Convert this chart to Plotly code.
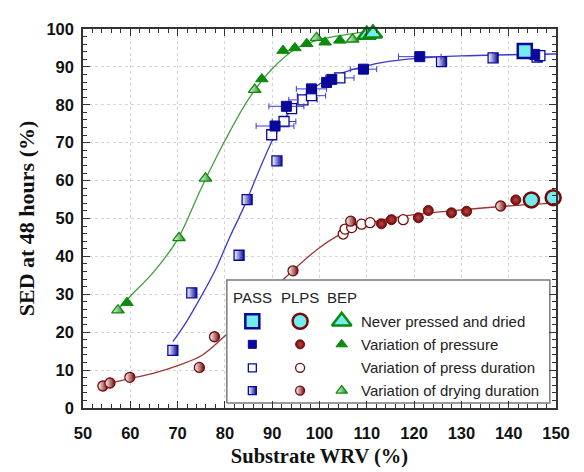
import plotly.graph_objects as go

# ---------------- data ----------------
# PASS (blue squares)
pass_never_x = [143.4]
pass_never_y = [94.2]
pass_press_x = [90.6, 93.0, 98.3, 101.5, 102.6, 109.3, 121.2, 145.5]
pass_press_y = [74.4, 79.6, 84.2, 85.9, 86.7, 89.4, 92.7, 93.3]
pass_press_err = [4.0, 3.7, 3.2, 0, 0, 2.8, 4.5, 0]
pass_dur_x = [89.9, 92.5, 94.1, 96.5, 98.3, 104.3, 146.6]
pass_dur_y = [72.1, 75.6, 79.0, 81.3, 82.4, 87.1, 93.0]
pass_dur_err = [0, 2.5, 0, 3.0, 3.0, 3.0, 0]
pass_dry_x = [69.0, 73.0, 83.0, 84.7, 91.0, 125.8, 136.7, 146.0]
pass_dry_y = [15.2, 30.4, 40.3, 55.0, 65.2, 91.4, 92.4, 92.6]

# PLPS (red circles)
plps_never_x = [144.8, 149.4]
plps_never_y = [54.9, 55.5]
plps_press_x = [113.1, 115.2, 120.9, 123.0, 127.9, 131.1, 141.5]
plps_press_y = [48.6, 49.7, 50.2, 52.1, 51.5, 51.9, 54.9]
plps_dur_x = [105.0, 105.4, 106.8, 108.9, 110.7, 117.7]
plps_dur_y = [45.9, 47.2, 47.6, 48.5, 48.9, 49.7]
plps_dry_x = [54.2, 55.7, 59.9, 74.6, 77.8, 94.4, 106.6, 138.3]
plps_dry_y = [5.8, 6.6, 8.1, 10.7, 18.8, 36.2, 49.3, 53.3]

# BEP (green triangles)
bep_never_x = [110.0, 111.3]
bep_never_y = [98.5, 98.8]
bep_press_x = [59.3, 87.8, 92.3, 94.8, 97.3, 101.2, 104.3]
bep_press_y = [27.8, 86.8, 94.3, 95.0, 96.1, 96.5, 97.0]
bep_dry_x = [57.4, 70.3, 75.9, 86.3, 99.4, 107.0]
bep_dry_y = [25.8, 44.9, 60.6, 84.0, 97.7, 97.3]

# fitted curves
fit_bep_x = [57, 60, 65, 70, 75, 80, 85, 90, 95, 100, 105, 110]
fit_bep_y = [25.5, 29.5, 36.0, 44.5, 58.0, 70.5, 81.5, 89.5, 94.8, 97.2, 98.4, 99.3]
fit_pass_x = [69, 72, 75, 78, 81, 84, 87, 90, 93, 96, 100, 105, 110, 115, 120, 130, 140, 150]
fit_pass_y = [17.5, 23.0, 29.5, 36.5, 45.0, 53.0, 62.0, 70.5, 77.0, 81.5, 85.5, 88.5, 90.3, 91.5, 92.2, 92.9, 93.2, 93.4]
fit_plps_x = [53.5, 56, 60, 65, 70, 75, 80, 85, 90, 95, 100, 105, 110, 115, 120, 130, 140, 150]
fit_plps_y = [5.8, 6.6, 7.8, 9.2, 11.2, 13.8, 19.0, 24.5, 31.0, 37.0, 42.3, 46.2, 48.6, 50.0, 51.0, 52.3, 53.3, 54.1]

x_ticks = [50, 60, 70, 80, 90, 100, 110, 120, 130, 140, 150]
y_ticks = [0, 10, 20, 30, 40, 50, 60, 70, 80, 90, 100]

legend_rows = ["Never pressed and dried", "Variation of pressure",
               "Variation of press duration", "Variation of drying duration"]
legend_cols = ["PASS", "PLPS", "BEP"]

# ---------------- styles ----------------
NAVY = "#08089a"
BLUE_LINE = "#3a3ad0"
MAROON = "#760808"
RED_LINE = "#a03434"
GREEN = "#0b8a0b"
GREEN_LINE = "#3f9f3f"
CYAN = "#72ecec"


def m_never(sym, col, size=14):
    return dict(symbol=sym, size=size, color=CYAN, line=dict(color=col, width=2.5))


def m_filled(sym, col, size=9):
    return dict(symbol=sym, size=size, color=col, line=dict(color=col, width=1))


def m_ball(col, size=9):
    return dict(symbol="circle", size=size, color=col,
                gradient=dict(type="radial", color="#b44848"),
                line=dict(color=col, width=1))


def m_open(sym, col, size=9):
    return dict(symbol=sym, size=size, color="white", line=dict(color=col, width=1.3))


def m_half(sym, col, size=9):
    return dict(symbol=sym, size=size, color="white",
                gradient=dict(type="horizontal", color=col),
                line=dict(color=col, width=1.3))


fig = go.Figure()

# curves
fig.add_trace(go.Scatter(x=fit_bep_x, y=fit_bep_y, mode="lines", line=dict(color=GREEN_LINE, width=1.3, shape="spline"), hoverinfo="skip"))
fig.add_trace(go.Scatter(x=fit_pass_x, y=fit_pass_y, mode="lines", line=dict(color=BLUE_LINE, width=1.3, shape="spline"), hoverinfo="skip"))
fig.add_trace(go.Scatter(x=fit_plps_x, y=fit_plps_y, mode="lines", line=dict(color=RED_LINE, width=1.3, shape="spline"), hoverinfo="skip"))

ebar = dict(type="data", color=BLUE_LINE, thickness=1, width=3)

# PASS
fig.add_trace(go.Scatter(x=pass_dry_x, y=pass_dry_y, mode="markers", marker=m_half("square", NAVY, 10)))
fig.add_trace(go.Scatter(x=pass_dur_x, y=pass_dur_y, mode="markers", marker=m_open("square", NAVY, 10),
                         error_x=dict(array=pass_dur_err, **ebar)))
fig.add_trace(go.Scatter(x=pass_press_x, y=pass_press_y, mode="markers", marker=m_filled("square", NAVY, 10),
                         error_x=dict(array=pass_press_err, **ebar)))
fig.add_trace(go.Scatter(x=pass_never_x, y=pass_never_y, mode="markers", marker=m_never("square", NAVY, 14), cliponaxis=False))

# PLPS
fig.add_trace(go.Scatter(x=plps_dur_x, y=plps_dur_y, mode="markers", marker=m_open("circle", MAROON, 10)))
fig.add_trace(go.Scatter(x=plps_dry_x, y=plps_dry_y, mode="markers", marker=m_half("circle", MAROON, 10)))
fig.add_trace(go.Scatter(x=plps_press_x, y=plps_press_y, mode="markers", marker=m_ball(MAROON, 10)))
fig.add_trace(go.Scatter(x=plps_never_x, y=plps_never_y, mode="markers", marker=m_never("circle", MAROON, 15), cliponaxis=False))

# BEP
fig.add_trace(go.Scatter(x=bep_dry_x, y=bep_dry_y, mode="markers", marker=m_half("triangle-up", GREEN, 11)))
fig.add_trace(go.Scatter(x=bep_press_x, y=bep_press_y, mode="markers", marker=m_filled("triangle-up", GREEN, 11)))
fig.add_trace(go.Scatter(x=bep_never_x, y=bep_never_y, mode="markers", marker=m_never("triangle-up", GREEN, 16), cliponaxis=False))

# ---------------- legend (custom table on an overlay axis) ----------------
box_x0, box_x1, box_y0, box_y1 = 0.304, 0.987, 0.013, 0.338
fig.add_trace(go.Scatter(x=[box_x0, box_x1, box_x1, box_x0, box_x0], y=[box_y0, box_y0, box_y1, box_y1, box_y0],
                         xaxis="x2", yaxis="y2", mode="lines", fill="toself", fillcolor="white",
                         line=dict(color="#7a7a7a", width=1.5), hoverinfo="skip"))

col_x = [0.358, 0.459, 0.547]
row_y = [0.229, 0.168, 0.106, 0.046]
text_x = 0.583
header_y = 0.291

legend_markers = [
    [m_never("square", NAVY, 14), m_never("circle", MAROON, 15), m_never("triangle-up", GREEN, 17)],
    [m_filled("square", NAVY, 8), m_ball(MAROON, 9), m_filled("triangle-up", GREEN, 10)],
    [m_open("square", NAVY, 8), m_open("circle", MAROON, 9), None],
    [m_half("square", NAVY, 8), m_half("circle", MAROON, 9), m_half("triangle-up", GREEN, 10)],
]
for r, row in enumerate(legend_markers):
    for c, mk in enumerate(row):
        if mk is None:
            continue
        fig.add_trace(go.Scatter(x=[col_x[c]], y=[row_y[r]], xaxis="x2", yaxis="y2",
                                 mode="markers", marker=mk, hoverinfo="skip"))

annots = []
lfont = dict(family="Arial, Liberation Sans, sans-serif", size=15, color="#222")
for c, name in enumerate(legend_cols):
    annots.append(dict(x=col_x[c], y=header_y, xref="x2", yref="y2", text=name, showarrow=False,
                       font=lfont, xanchor="center", yanchor="middle"))
for r, name in enumerate(legend_rows):
    annots.append(dict(x=text_x, y=row_y[r], xref="x2", yref="y2", text=name, showarrow=False,
                       font=lfont, xanchor="left", yanchor="middle"))

axis_common = dict(
    showline=True, linecolor="#333", linewidth=1.5, mirror="allticks",
    ticks="inside", ticklen=7, tickwidth=1.2, tickcolor="#333",
    minor=dict(ticks="inside", ticklen=4, tickwidth=1, tickcolor="#333", dtick=2, showgrid=False),
    showgrid=True, gridcolor="#d4d4d4", griddash="dot", gridwidth=1,
    zeroline=False,
    tickfont=dict(family="Arial, Liberation Sans, sans-serif", size=16.5, color="#111", weight="bold"),
)

fig.update_layout(
    width=584, height=472,
    margin=dict(l=75, r=36, t=12, b=72),
    paper_bgcolor="white", plot_bgcolor="white",
    showlegend=False,
    xaxis=dict(range=[50, 150], tickvals=x_ticks, ticktext=[str(v) for v in x_ticks],
               ticklabelstandoff=9,
               title=dict(text="Substrate WRV (%)", standoff=8,
                          font=dict(family="Times New Roman, Liberation Serif, serif", size=20.5, color="#111", weight="bold")),
               **axis_common),
    yaxis=dict(range=[0, 100], tickvals=y_ticks, ticktext=[str(v) for v in y_ticks],
               ticklabelstandoff=4,
               title=dict(text="SED at 48 hours (%)", standoff=6,
                          font=dict(family="Times New Roman, Liberation Serif, serif", size=22, color="#111", weight="bold")),
               **axis_common),
    xaxis2=dict(overlaying="x", range=[0, 1], visible=False, fixedrange=True),
    yaxis2=dict(overlaying="y", range=[0, 1], visible=False, fixedrange=True),
    annotations=annots,
)

fig.write_html("out.html")
